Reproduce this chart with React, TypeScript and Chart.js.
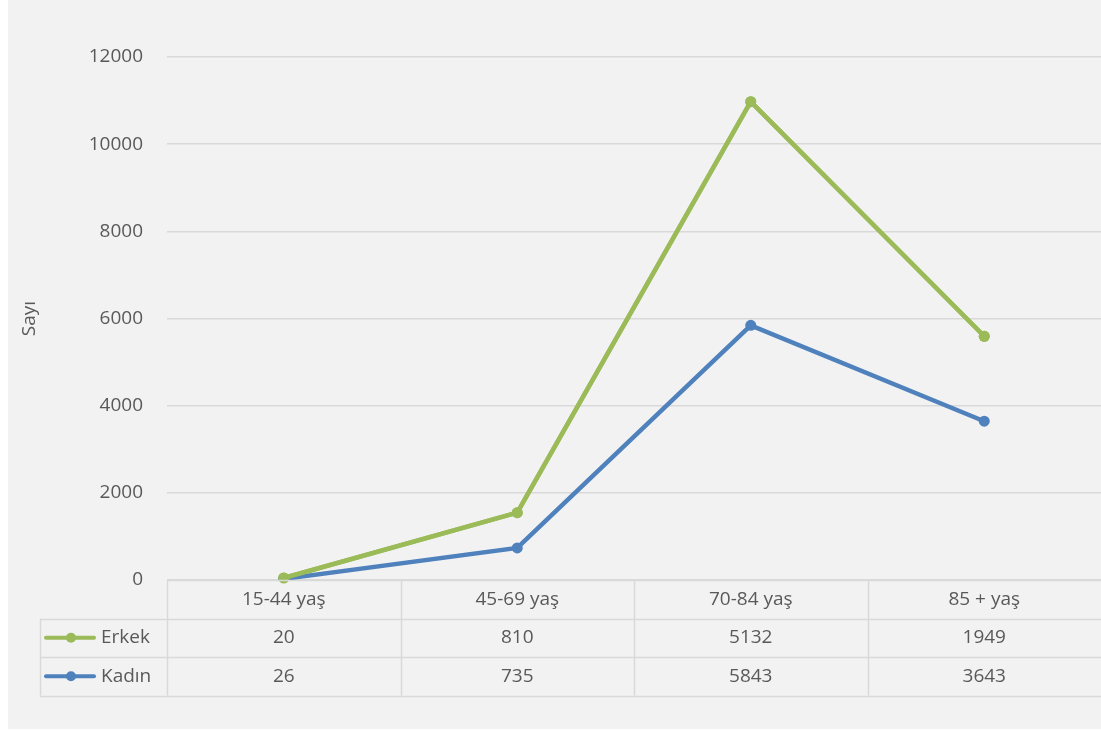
import React, { useEffect, useRef } from "react";
import { Chart, registerables } from "chart.js";

Chart.register(...registerables);

const categories = ["15-44 yaş", "45-69 yaş", "70-84 yaş", "85 + yaş"];
const erkek = [20, 810, 5132, 1949];
const kadin = [26, 735, 5843, 3643];
const yTicks = [0, 2000, 4000, 6000, 8000, 10000, 12000];

const GREEN = "#9bbb59";
const BLUE = "#4f81bd";
const TEXT = "#595959";
const LINE = "#d9d9d9";
const FONT = "'Open Sans', 'Noto Sans', sans-serif";
const FS = 19;

const tableRows = [
  { label: "Erkek", color: GREEN, values: erkek },
  { label: "Kadın", color: BLUE, values: kadin },
];

const tablePlugin = {
  id: "dataTable",
  afterDatasetsDraw(chart: any) {
    // draw Erkek (stacked on top) above Kadın
    const meta = chart.getDatasetMeta(1);
    if (meta && meta.controller) meta.controller.draw();
  },
  afterDraw(chart: any) {
    const ctx = chart.ctx;
    const x = chart.scales.x;
    const area = chart.chartArea;
    const top = area.bottom;
    const rowH = 38.5;
    const legendLeft = 32;
    const left = area.left;
    const right = chart.width;
    const colW = (area.right - area.left) / categories.length;
    ctx.save();
    ctx.strokeStyle = LINE;
    ctx.lineWidth = 1.5;
    const hline = (y: number, x0: number) => {
      ctx.beginPath();
      ctx.moveTo(x0, Math.round(y) + 0.5);
      ctx.lineTo(right, Math.round(y) + 0.5);
      ctx.stroke();
    };
    hline(top, left);
    for (let r = 1; r <= tableRows.length + 1; r++) hline(top + rowH * r, legendLeft);
    const bottom = top + rowH * (tableRows.length + 1);
    const vline = (xx: number, y0: number) => {
      ctx.beginPath();
      ctx.moveTo(Math.round(xx) + 0.5, y0);
      ctx.lineTo(Math.round(xx) + 0.5, bottom);
      ctx.stroke();
    };
    vline(legendLeft, top + rowH);
    for (let i = 0; i < categories.length; i++) vline(left + colW * i, top);

    ctx.fillStyle = TEXT;
    ctx.font = `${FS}px ${FONT}`;
    ctx.textBaseline = "middle";
    ctx.textAlign = "center";
    categories.forEach((c, i) => {
      ctx.fillText(c, x.getPixelForValue(i), top + rowH / 2);
    });
    tableRows.forEach((row, r) => {
      const cy = top + rowH * (r + 1.5);
      row.values.forEach((v, i) => {
        ctx.fillStyle = TEXT;
        ctx.textAlign = "center";
        ctx.fillText(String(v), x.getPixelForValue(i), cy);
      });
      ctx.strokeStyle = row.color;
      ctx.lineWidth = 4;
      ctx.lineCap = "round";
      ctx.beginPath();
      ctx.moveTo(38, cy);
      ctx.lineTo(86, cy);
      ctx.stroke();
      ctx.fillStyle = row.color;
      ctx.beginPath();
      ctx.arc(63, cy, 5, 0, Math.PI * 2);
      ctx.fill();
      ctx.fillStyle = TEXT;
      ctx.textAlign = "left";
      ctx.fillText(row.label, 93, cy);
      ctx.strokeStyle = LINE;
      ctx.lineWidth = 1.5;
    });
    ctx.restore();
  },
};

export default function App() {
  const ref = useRef<HTMLCanvasElement>(null);
  useEffect(() => {
    if (!ref.current) return;
    const chart = new Chart(ref.current, {
      type: "line",
      data: {
        labels: categories,
        datasets: [
          {
            label: "Kadın",
            data: kadin,
            borderColor: BLUE,
            backgroundColor: BLUE,
            borderWidth: 4.5,
            pointRadius: 5.5,
            pointBorderWidth: 0,
            pointBackgroundColor: BLUE,
            tension: 0,
          },
          {
            label: "Erkek",
            data: erkek,
            borderColor: GREEN,
            backgroundColor: GREEN,
            borderWidth: 4.5,
            pointRadius: 5.5,
            pointBorderWidth: 0,
            pointBackgroundColor: GREEN,
            tension: 0,
          },
        ],
      },
      options: {
        animation: false,
        responsive: false,
        maintainAspectRatio: false,
        layout: { autoPadding: false, padding: { top: 57, bottom: 149, left: 0, right: 0 } },
        plugins: {
          legend: { display: false },
          tooltip: { enabled: false },
        },
        scales: {
          x: {
            display: false,
            offset: true,
          },
          y: {
            stacked: true,
            min: 0,
            max: 12000,
            afterBuildTicks: (s: any) => {
              s.ticks = yTicks.map((v) => ({ value: v }));
            },
            afterFit: (s: any) => {
              s.width = 159;
            },
            border: { display: false },
            grid: { color: LINE, lineWidth: 1.5, drawTicks: false },
            ticks: {
              color: TEXT,
              font: { family: FONT, size: FS },
              padding: 24,
              callback: (v: any) => String(v),
            },
            title: {
              display: true,
              text: "Sayı",
              color: TEXT,
              font: { family: FONT, size: FS },
              padding: { top: 10, bottom: 0 },
            },
          },
        },
      },
      plugins: [tablePlugin],
    });
    return () => chart.destroy();
  }, []);
  return (
    <div
      style={{
        position: "absolute",
        left: 8,
        top: 0,
        width: 1093,
        height: 729,
        background: "#f2f2f2",
      }}
    >
      <canvas ref={ref} width={1093} height={729} style={{ display: "block" }} />
    </div>
  );
}
